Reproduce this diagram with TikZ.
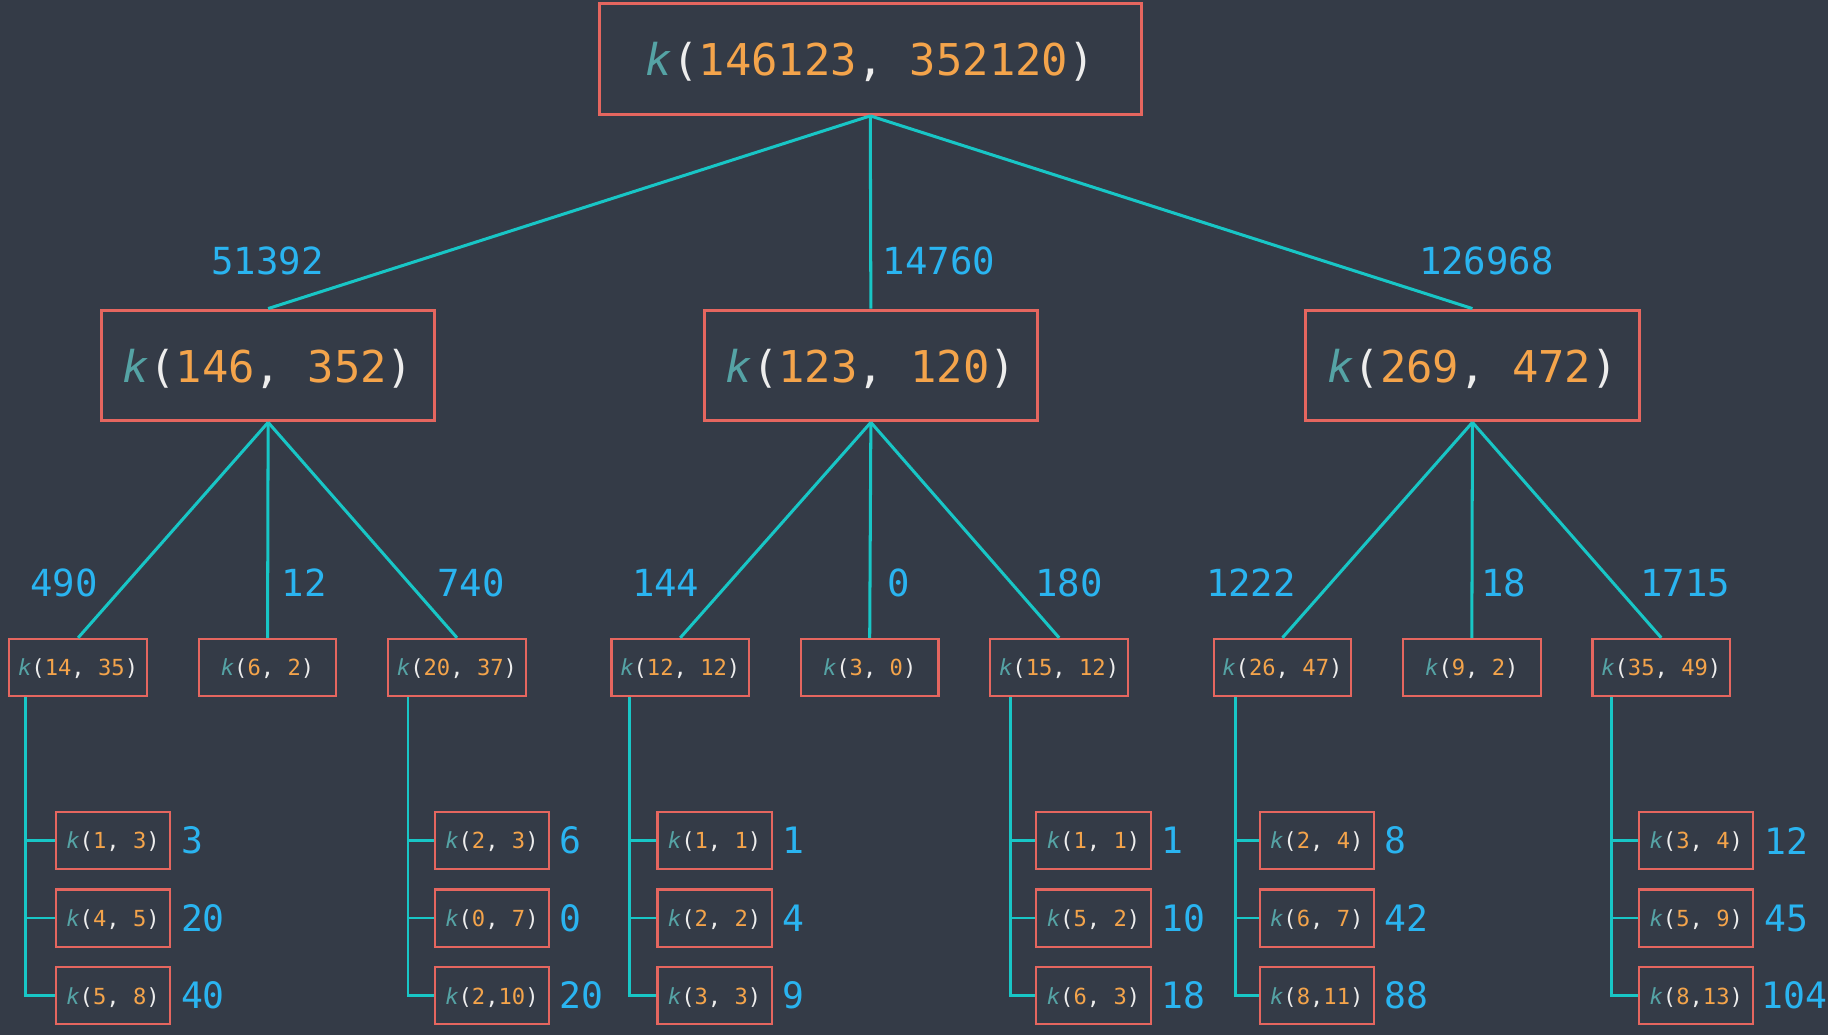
\documentclass[tikz,border=0pt]{standalone}
\usepackage{fontspec}
\newfontfamily\mono{DejaVu Sans Mono}
\definecolor{bg}{HTML}{343B47}
\definecolor{boxc}{HTML}{E5665F}
\definecolor{kteal}{HTML}{55A3A5}
\definecolor{parc}{HTML}{EDEDED}
\definecolor{numc}{HTML}{F4A44B}
\definecolor{lblc}{HTML}{2AB4F0}
\definecolor{linkc}{HTML}{18C6C6}
% call with a space after the comma, and without
\newcommand{\kp}[2]{{\color{kteal}\itshape k}\textcolor{parc}{(}\textcolor{numc}{#1}\textcolor{parc}{,}\ \textcolor{numc}{#2}\textcolor{parc}{)}}
\newcommand{\kc}[2]{{\color{kteal}\itshape k}\textcolor{parc}{(}\textcolor{numc}{#1}\textcolor{parc}{,}\textcolor{numc}{#2}\textcolor{parc}{)}}
\begin{document}
\begin{tikzpicture}[x=0.5pt,y=-0.5pt,
  bigbox/.style={draw=boxc, line width=1.4pt, minimum width=232.5pt, minimum height=47.5pt, inner sep=0pt, text depth=0pt, font=\mono\fontsize{18.8}{22}\selectfont},
  midbox/.style={bigbox, line width=1.3pt, minimum width=143pt},
  smallbox/.style={draw=boxc, line width=0.9pt, minimum width=59pt, minimum height=24.5pt, inner sep=0pt, text depth=0pt, font=\mono\fontsize{9.5}{11}\selectfont},
  leafbox/.style={smallbox, minimum width=49pt},
  lbl/.style={text=lblc, inner sep=0pt, font=\mono\fontsize{16}{19}\selectfont},
  num/.style={lbl, anchor=west, xshift=4pt, font=\mono\fontsize{15.6}{19}\selectfont},
  link/.style={draw=linkc, line width=1.3pt},
  trunk/.style={draw=linkc, line width=1.2pt}]
\fill[bg] (0,0) rectangle (1568,888);
\useasboundingbox (0,0) rectangle (1568,888);

% root and first level
\node[bigbox] (root) at (746.5,50.5) {\kp{146123}{352120}};
\node[midbox] (a) at (230,313.5) {\kp{146}{352}};
\node[midbox] (b) at (747,313.5) {\kp{123}{120}};
\node[midbox] (c) at (1263,313.5) {\kp{269}{472}};
\draw[link] (root.south) -- (a.north);
\draw[link] (root.south) -- (b.north);
\draw[link] (root.south) -- (c.north);
\node[lbl] (la) at (229.5,224) {51392};
\node[lbl] (lb) at (805.5,224) {14760};
\node[lbl] (lc) at (1275,224) {126968};

% second level
\node[smallbox] (a1) at (67,572.5) {\kp{14}{35}};
\node[smallbox] (a2) at (229.5,572.5) {\kp{6}{2}};
\node[smallbox] (a3) at (392,572.5) {\kp{20}{37}};
\node[smallbox] (b1) at (583.5,572.5) {\kp{12}{12}};
\node[smallbox] (b2) at (746,572.5) {\kp{3}{0}};
\node[smallbox] (b3) at (908.5,572.5) {\kp{15}{12}};
\node[smallbox] (c1) at (1100,572.5) {\kp{26}{47}};
\node[smallbox] (c2) at (1262.5,572.5) {\kp{9}{2}};
\node[smallbox] (c3) at (1425,572.5) {\kp{35}{49}};
\foreach \p/\q in {a/a1,a/a2,a/a3,b/b1,b/b2,b/b3,c/c1,c/c2,c/c3}
  \draw[link] (\p.south) -- (\q.north);
\node[lbl] at (55,500) {490};
\node[lbl] at (261,500) {12};
\node[lbl] at (404,500) {740};
\node[lbl] at (571,500) {144};
\node[lbl] at (771,500) {0};
\node[lbl] at (917,500) {180};
\node[lbl] at (1073,500) {1222};
\node[lbl] at (1290,500) {18};
\node[lbl] at (1445.5,500) {1715};

% leaves
\node[leafbox] (a11) at (97,721) {\kp{1}{3}};
\node[leafbox] (a12) at (97,787.5) {\kp{4}{5}};
\node[leafbox] (a13) at (97,854) {\kp{5}{8}};
\node[leafbox] (a31) at (422,721) {\kp{2}{3}};
\node[leafbox] (a32) at (422,787.5) {\kp{0}{7}};
\node[leafbox] (a33) at (422,854) {\kc{2}{10}};
\node[leafbox] (b11) at (613,721) {\kp{1}{1}};
\node[leafbox] (b12) at (613,787.5) {\kp{2}{2}};
\node[leafbox] (b13) at (613,854) {\kp{3}{3}};
\node[leafbox] (b31) at (938,721) {\kp{1}{1}};
\node[leafbox] (b32) at (938,787.5) {\kp{5}{2}};
\node[leafbox] (b33) at (938,854) {\kp{6}{3}};
\node[leafbox] (c11) at (1129.5,721) {\kp{2}{4}};
\node[leafbox] (c12) at (1129.5,787.5) {\kp{6}{7}};
\node[leafbox] (c13) at (1129.5,854) {\kc{8}{11}};
\node[leafbox] (c31) at (1455,721) {\kp{3}{4}};
\node[leafbox] (c32) at (1455,787.5) {\kp{5}{9}};
\node[leafbox] (c33) at (1455,854) {\kc{8}{13}};

% trunk lines of each leaf group
\coordinate (ta1) at (22,597);
\coordinate (ta3) at (350,597);
\coordinate (tb1) at (540,597);
\coordinate (tb3) at (867,597);
\coordinate (tc1) at (1060,597);
\coordinate (tc3) at (1382,597);
\foreach \g in {a1,a3,b1,b3,c1,c3}
  \foreach \r in {1,2,3}
    \draw[trunk] (\g.south -| t\g) |- (\g\r.west);

\node[num] at (a11.east) {3};
\node[num] at (a12.east) {20};
\node[num] at (a13.east) {40};
\node[num] at (a31.east) {6};
\node[num] at (a32.east) {0};
\node[num] at (a33.east) {20};
\node[num] at (b11.east) {1};
\node[num] at (b12.east) {4};
\node[num] at (b13.east) {9};
\node[num] at (b31.east) {1};
\node[num] at (b32.east) {10};
\node[num] at (b33.east) {18};
\node[num] at (c11.east) {8};
\node[num] at (c12.east) {42};
\node[num] at (c13.east) {88};
\node[num] at (c31.east) {12};
\node[num] at (c32.east) {45};
\node[num, xshift=-1pt] at (c33.east) {104};
\end{tikzpicture}
\end{document}
